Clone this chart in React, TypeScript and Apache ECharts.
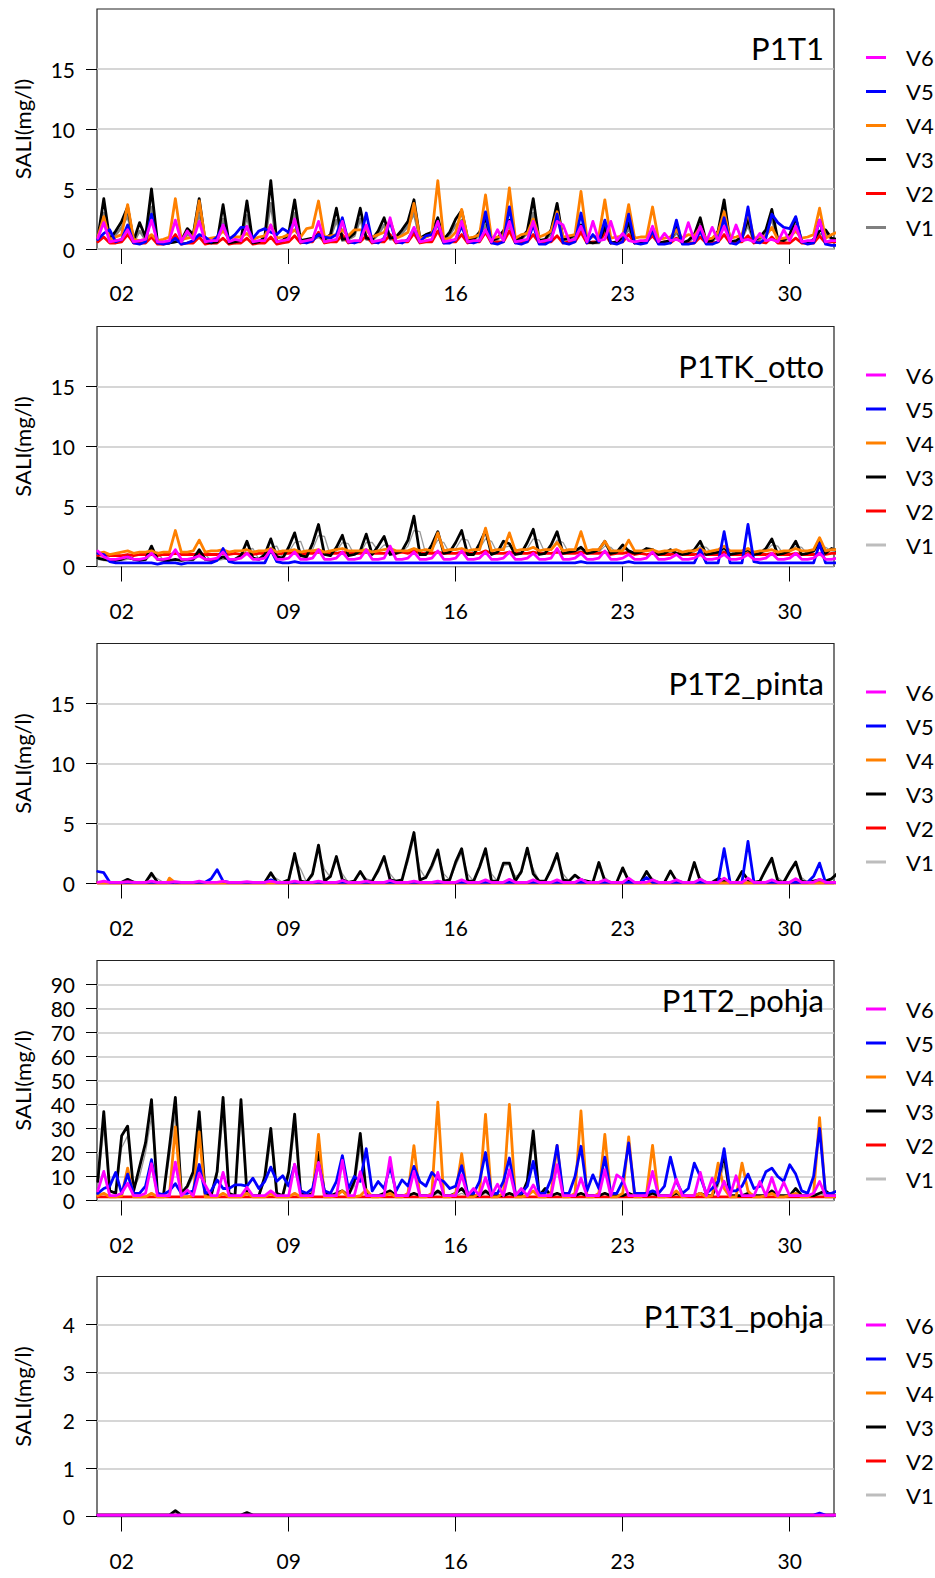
import React, { useEffect, useRef } from "react";
import * as echarts from "echarts";

// ---------- data ----------
// six-hourly samples starting at day 1, 00:00 (step 0.25 day)
const START_DAY = 1;
const STEP = 0.25;
const DAY_TICKS = [2, 9, 16, 23, 30];
const PANEL_TITLES = ["P1T1", "P1TK_otto", "P1T2_pinta", "P1T2_pohja", "P1T31_pohja"];
const Y_MAX = [20, 20, 20, 100, 5];
const Y_STEP = [5, 5, 5, 10, 1];
const Y_TICKS = [
  [0, 5, 10, 15],
  [0, 5, 10, 15],
  [0, 5, 10, 15],
  [0, 10, 20, 30, 40, 50, 60, 70, 80, 90],
  [0, 1, 2, 3, 4],
];
const SERIES_NAMES = ["V1", "V2", "V3", "V4", "V5", "V6"];

// ---- P1T1 ----
const p1V1 = [
  0.7,3.0,0.7,1.2, 1.8,2.8,0.6,1.5, 0.8,3.5,0.5,0.5, 0.5,0.6,0.6,1.2, 1.0,3.0,0.5,0.5, 0.5,2.5,0.5,0.5, 0.6,2.8,0.5,0.5, 0.8,3.8,0.5,0.6,
  1.1,3.0,0.6,0.7, 0.8,1.0,0.7,1.0, 2.4,0.7,0.8,1.1, 2.5,0.8,0.7,1.2, 2.0,0.8,0.9,1.3, 1.9,3.0,0.8,1.0, 1.2,2.0,0.7,1.2, 2.0,2.4,0.8,0.7,
  1.2,2.0,0.6,0.8, 1.2,1.9,0.7,0.8, 1.3,3.0,0.6,0.7, 1.3,2.8,0.7,0.8, 1.0,1.6,0.5,0.5, 0.5,1.4,0.5,0.5, 0.8,1.7,0.5,0.5, 0.6,1.2,0.5,0.5,
  0.6,1.4,0.5,0.6, 1.0,2.0,0.5,0.6, 1.2,3.0,0.5,0.6, 0.9,2.0,0.6,0.8, 1.3,2.5,0.7,0.6, 1.0,2.0,0.5,0.5, 0.7,1.2,1.3,0.8, 0.7,
];
const p1V2 = [
  0.6,1.0,0.5,0.5, 0.6,1.2,0.5,0.5, 0.5,1.0,0.4,0.4, 0.5,1.2,0.4,0.5, 0.5,1.0,0.4,0.5, 0.5,0.9,0.4,0.5, 0.5,0.9,0.4,0.5, 0.5,1.0,0.4,0.5,
  0.6,1.1,0.5,0.6, 0.6,1.4,0.5,0.6, 0.6,1.2,0.5,0.6, 0.6,1.1,0.5,0.6, 0.6,1.2,0.5,0.6, 0.6,1.3,0.5,0.6, 0.6,1.5,0.5,0.6, 0.6,1.2,0.5,0.6,
  0.6,1.4,0.5,0.6, 0.6,1.5,0.5,0.6, 0.6,1.2,0.5,0.6, 0.6,1.1,0.5,0.6, 0.6,1.4,0.5,0.6, 0.6,1.3,0.5,0.6, 0.6,1.2,0.5,0.6, 0.6,1.1,0.5,0.6,
  0.5,0.9,0.5,0.5, 0.5,1.0,0.5,0.5, 0.6,1.2,0.5,0.6, 0.6,1.1,0.5,0.6, 0.5,1.0,0.5,0.5, 0.5,0.9,0.5,0.5, 0.5,1.1,0.5,0.6, 0.6,
];
const p1V3 = [
  0.9,4.2,0.8,1.5, 2.3,3.5,0.7,2.2, 1.0,5.0,0.6,0.5, 0.5,0.6,0.7,1.7, 1.2,4.2,0.6,0.5, 0.6,3.7,0.5,0.6, 0.7,4.0,0.5,0.6, 1.0,5.7,0.6,0.7,
  1.3,4.1,0.7,0.8, 0.9,1.2,0.8,1.2, 3.4,0.8,0.9,1.3, 3.4,0.9,0.8,1.5, 2.6,0.9,1.0,1.6, 2.3,4.1,0.9,1.2, 1.4,2.6,0.8,1.4, 2.5,3.2,0.9,0.8,
  1.4,2.6,0.7,0.9, 1.5,2.4,0.8,0.9, 1.5,4.2,0.7,0.8, 1.6,3.8,0.8,0.9, 1.2,2.0,0.6,0.5, 0.6,1.8,0.5,0.6, 1.0,2.2,0.5,0.6, 0.7,1.5,0.5,0.6,
  0.7,1.8,0.5,0.7, 1.2,2.6,0.6,0.7, 1.5,4.1,0.6,0.7, 1.0,2.5,0.7,1.0, 1.6,3.3,0.8,0.7, 1.2,2.6,0.6,0.5, 0.8,1.5,1.6,0.9, 0.8,
];
const p1V4 = [
  1.0,2.7,0.8,1.0, 1.2,3.7,0.8,0.7, 0.8,1.2,0.7,0.8, 1.0,4.2,0.8,0.9, 1.0,4.0,0.8,0.9, 1.0,1.5,0.9,1.0, 1.0,1.3,0.8,1.0, 1.1,2.0,0.9,1.0,
  1.2,1.6,1.0,1.7, 1.8,4.0,1.0,1.1, 1.2,1.6,1.1,1.6, 1.6,1.6,1.0,1.2, 1.4,2.4,0.9,1.1, 1.4,3.8,0.9,1.0, 1.2,5.7,0.8,0.9, 1.4,3.3,0.9,1.0,
  1.2,4.5,0.9,1.0, 1.1,5.1,0.9,1.2, 1.3,2.5,1.0,1.2, 1.5,3.1,1.0,1.1, 1.2,4.8,0.9,1.0, 1.1,4.1,0.9,1.0, 1.1,3.7,0.9,1.0, 1.0,3.5,0.8,0.9,
  1.0,1.6,0.9,1.2, 1.1,1.8,0.8,0.9, 1.4,3.1,0.9,1.0, 1.2,3.1,0.9,1.0, 1.1,1.8,0.8,0.9, 1.0,1.5,0.9,1.0, 1.2,3.4,0.9,1.2, 1.4,
];
const p1V5 = [
  0.8,1.3,1.6,0.6, 0.8,2.0,0.5,0.4, 0.6,2.9,0.5,0.4, 0.5,0.9,0.4,0.5, 0.7,1.2,1.0,0.6, 1.0,2.0,0.8,1.2, 1.8,1.8,0.9,1.5, 1.7,1.4,1.2,1.7,
  1.4,2.3,0.6,0.5, 0.7,1.2,1.0,0.9, 1.2,2.6,0.6,0.5, 0.7,3.0,0.6,0.5, 0.9,2.3,0.6,0.5, 0.8,1.7,0.6,1.1, 1.2,2.2,0.5,0.5, 0.8,1.9,0.6,0.5,
  0.7,3.1,0.5,0.4, 0.6,3.5,0.5,0.4, 0.6,2.0,0.4,0.4, 0.7,2.9,0.5,0.4, 0.6,3.0,0.5,1.2, 0.6,2.4,0.5,0.4, 0.6,2.9,0.5,0.4, 0.5,1.5,0.4,0.4,
  0.5,2.4,0.4,0.4, 0.5,1.5,0.4,0.4, 0.6,2.6,0.5,0.4, 0.8,3.5,0.6,0.5, 0.9,2.9,2.2,1.8, 1.7,2.7,0.6,0.4, 0.5,2.4,0.4,0.3, 0.3,
];
const p1V6 = [
  0.9,2.2,0.6,0.7, 0.8,1.6,0.6,0.7, 0.8,2.4,0.6,0.6, 0.7,2.4,0.6,1.5, 0.8,2.3,0.6,0.7, 0.7,2.0,0.6,0.8, 0.7,1.9,0.6,0.7, 0.7,2.0,0.6,0.7,
  0.8,2.5,0.6,0.7, 0.8,2.3,0.6,0.7, 0.8,2.3,0.6,0.7, 0.7,2.0,0.6,0.7, 0.8,2.6,0.6,0.7, 0.7,1.8,0.6,0.7, 0.8,2.3,0.6,0.7, 0.8,2.3,0.6,0.7,
  0.7,1.6,0.6,1.6, 0.7,2.3,0.6,0.7, 0.8,2.3,0.6,0.7, 0.8,2.3,2.0,0.7, 0.8,1.9,0.6,2.3, 0.7,0.8,2.3,0.7, 1.3,0.7,0.6,0.7, 0.7,1.9,0.6,1.3,
  0.7,0.8,0.6,2.2, 0.7,1.9,0.6,1.8, 0.7,1.9,0.6,2.0, 0.7,0.8,0.6,1.3, 0.7,0.8,0.6,1.6, 0.7,1.9,0.6,0.7, 0.7,2.4,0.6,0.7, 0.7,
];

// ---- P1TK_otto ----
const p2V1 = [
  0.6,0.5,0.5,0.5, 0.5,0.6,0.6,0.5, 0.5,1.0,1.2,0.5, 0.5,0.5,0.5,0.5, 0.5,0.9,1.0,0.5, 0.5,0.6,0.6,0.5, 0.7,1.4,1.5,0.6, 0.8,1.6,1.7,0.7,
  1.2,2.0,2.1,0.8, 1.4,2.6,2.5,0.9, 1.3,2.0,1.9,1.0, 1.1,2.0,2.0,1.3, 1.8,1.7,1.1,1.2, 1.7,3.0,2.9,1.0, 1.4,2.2,2.0,1.1, 1.5,2.3,2.2,1.0,
  1.5,2.3,2.1,1.1, 1.6,1.7,1.5,1.1, 1.5,2.3,2.2,1.1, 1.4,2.2,2.0,1.1, 1.2,1.4,1.3,1.1, 1.2,1.7,1.6,1.1, 1.5,1.3,1.2,1.1, 1.3,1.3,1.2,1.1,
  1.2,1.1,1.1,1.0, 1.2,1.7,1.6,1.1, 1.1,1.4,1.3,1.0, 1.1,1.3,1.2,1.0, 1.3,1.8,1.7,1.0, 1.2,1.7,1.6,1.0, 1.2,1.7,1.6,1.3, 1.2,
];
const p2V2 = [
  0.9,1.0,0.9,0.9, 0.9,1.0,0.9,1.0, 1.0,1.0,0.9,1.0, 1.0,1.1,1.0,1.0, 1.0,1.1,1.0,1.0, 1.0,1.1,1.0,1.1, 1.0,1.1,1.0,1.1, 1.1,1.2,1.0,1.1,
  1.1,1.2,1.0,1.1, 1.1,1.2,1.1,1.1, 1.1,1.2,1.1,1.1, 1.1,1.2,1.1,1.1, 1.1,1.2,1.1,1.2, 1.1,1.3,1.1,1.1, 1.1,1.2,1.1,1.1, 1.1,1.2,1.1,1.1,
  1.1,1.3,1.1,1.1, 1.1,1.2,1.1,1.1, 1.1,1.2,1.1,1.1, 1.1,1.2,1.1,1.1, 1.1,1.2,1.1,1.1, 1.1,1.2,1.0,1.1, 1.1,1.2,1.0,1.1, 1.0,1.1,1.0,1.0,
  1.0,1.1,1.0,1.0, 1.0,1.1,1.0,1.0, 1.0,1.2,1.0,1.0, 1.0,1.1,1.0,1.0, 1.0,1.1,1.0,1.0, 1.0,1.1,1.0,1.0, 1.0,1.1,1.0,1.1, 1.1,
];
const p2V3 = [
  0.7,0.6,0.5,0.5, 0.6,0.8,0.6,0.5, 0.6,1.7,0.6,0.5, 0.5,0.6,0.5,0.6, 0.6,1.4,0.6,0.5, 0.6,0.8,0.6,0.6, 0.9,2.1,0.7,0.6, 1.0,2.3,0.8,0.7,
  1.6,2.8,0.9,0.8, 1.9,3.5,1.0,0.9, 1.6,2.6,0.9,1.0, 1.3,2.7,1.0,1.7, 2.5,1.0,1.1,1.3, 2.2,4.2,1.0,1.0, 1.8,2.9,1.1,1.2, 2.0,3.0,1.0,1.0,
  1.9,3.0,1.0,1.2, 2.1,1.9,1.0,1.1, 2.0,3.1,1.0,1.1, 1.8,2.9,1.1,1.2, 1.3,1.6,1.1,1.2, 1.4,2.1,1.1,1.2, 1.8,1.3,1.1,1.2, 1.5,1.4,1.0,1.1,
  1.4,1.1,1.0,1.1, 1.4,2.1,1.0,1.1, 1.2,1.6,1.0,1.1, 1.2,1.4,1.0,1.1, 1.5,2.3,1.0,1.1, 1.3,2.1,1.0,1.1, 1.3,2.1,1.1,1.5, 1.3,
];
const p2V4 = [
  1.1,1.2,1.0,1.1, 1.2,1.3,1.1,1.2, 1.2,1.3,1.1,1.2, 1.2,3.0,1.2,1.2, 1.3,2.2,1.2,1.3, 1.3,1.4,1.2,1.3, 1.3,1.4,1.2,1.3, 1.3,1.5,1.2,1.3,
  1.3,1.4,1.2,1.3, 1.3,1.4,1.2,1.3, 1.4,1.5,1.3,1.3, 1.3,1.4,1.2,1.3, 1.4,1.5,1.3,1.3, 1.3,1.5,1.3,1.4, 1.3,2.8,1.3,1.4, 1.4,1.5,1.3,1.4,
  1.4,3.2,1.3,1.4, 1.4,2.8,1.3,1.4, 1.4,1.6,1.3,1.4, 1.4,2.0,1.3,1.4, 1.4,2.9,1.3,1.4, 1.4,2.1,1.3,1.3, 1.3,2.2,1.3,1.3, 1.3,1.4,1.2,1.3,
  1.3,1.4,1.2,1.3, 1.3,1.5,1.2,1.3, 1.4,1.7,1.3,1.3, 1.3,1.5,1.2,1.3, 1.3,1.4,1.2,1.3, 1.3,1.5,1.3,1.3, 1.4,2.4,1.3,1.4, 1.4,
];
const p2V5 = [
  1.1,1.0,0.4,0.3, 0.3,0.3,0.3,0.3, 0.3,0.3,0.2,0.3, 0.3,0.3,0.2,0.3, 0.3,0.3,0.3,0.3, 0.5,1.5,0.4,0.3, 0.3,0.3,0.3,0.3, 0.3,1.4,0.4,0.3,
  0.3,0.4,0.3,0.3, 0.3,0.3,0.3,0.3, 0.3,0.3,0.3,0.3, 0.3,0.3,0.3,0.3, 0.3,0.3,0.3,0.3, 0.3,0.3,0.3,0.3, 0.3,0.3,0.3,0.3, 0.3,0.3,0.3,0.3,
  0.3,0.3,0.3,0.3, 0.3,0.3,0.3,0.3, 0.3,0.3,0.3,0.3, 0.3,0.3,0.3,0.3, 0.3,0.4,0.3,0.3, 0.3,0.3,0.3,0.3, 0.3,0.4,0.3,0.3, 0.3,0.3,0.3,0.3,
  0.3,0.3,0.3,0.3, 0.3,1.4,0.3,0.3, 0.3,2.9,0.3,0.3, 0.3,3.5,0.4,0.3, 0.3,0.3,0.3,0.3, 0.3,0.3,0.3,0.3, 0.3,1.9,0.3,0.3, 0.3,
];
const p2V6 = [
  1.3,0.8,0.6,0.6, 0.7,0.8,0.6,0.6, 0.7,1.1,0.6,0.6, 0.7,1.4,0.6,0.6, 0.7,0.9,0.6,0.6, 0.7,1.2,0.6,0.6, 0.7,1.1,0.6,0.6, 0.7,1.4,0.6,0.6,
  0.7,1.2,0.6,0.6, 0.7,1.4,0.6,0.6, 0.7,1.2,0.6,0.6, 0.7,1.4,0.6,0.6, 0.7,1.7,0.6,0.6, 0.7,1.2,0.6,0.6, 0.7,1.3,0.6,0.6, 0.7,1.3,0.6,0.6,
  0.7,1.2,0.6,0.6, 0.7,1.2,0.6,0.6, 0.7,1.1,0.6,0.6, 0.7,1.5,0.6,0.6, 0.7,1.1,0.6,0.6, 0.7,1.3,0.6,0.6, 0.7,1.0,0.6,0.6, 0.7,1.2,0.6,0.6,
  0.7,1.0,0.6,0.6, 0.7,1.0,0.6,0.6, 0.7,1.0,0.6,0.6, 0.7,1.0,0.6,0.6, 0.7,1.1,0.6,0.6, 0.7,1.1,0.6,0.6, 0.7,1.1,0.6,0.6, 0.7,
];

// ---- P1T2_pinta ----
const p3V1 = [
  0.1,0.1,0.1,0.1, 0.1,0.3,0.2,0.1, 0.1,0.6,0.4,0.1, 0.1,0.1,0.1,0.1, 0.1,0.1,0.1,0.1, 0.1,0.1,0.1,0.1, 0.1,0.1,0.1,0.1, 0.1,0.7,0.4,0.1,
  0.2,2.0,1.2,0.1, 0.6,2.8,1.2,0.5, 2.0,0.8,0.1,0.2, 0.9,0.4,0.2,0.9, 2.0,0.8,0.2,0.3, 1.8,3.8,1.2,0.4, 1.2,2.5,0.8,0.3, 1.5,2.6,0.8,0.2,
  1.2,2.6,0.8,0.2, 1.5,1.6,0.6,0.8, 2.6,1.2,0.2,0.2, 1.0,2.2,0.8,0.2, 0.6,0.4,0.2,0.1, 1.5,0.5,0.1,0.1, 1.1,0.4,0.1,0.1, 0.9,0.4,0.1,0.1,
  0.9,0.4,0.1,0.1, 1.5,0.5,0.1,0.1, 0.3,0.2,0.1,0.1, 0.9,0.4,0.1,0.2, 1.0,1.9,0.5,0.1, 0.9,1.6,0.5,0.1, 0.2,0.3,0.2,0.3, 0.7,
];
const p3V2 = [[1, 0.05], [32, 0.05]];
const p3V3 = [
  0.1,0.1,0.1,0.1, 0.1,0.35,0.1,0.1, 0.1,0.85,0.1,0.1, 0.1,0.1,0.1,0.1, 0.1,0.1,0.1,0.1, 0.1,0.1,0.1,0.1, 0.1,0.1,0.1,0.1, 0.1,0.9,0.1,0.1,
  0.3,2.5,0.2,0.1, 0.8,3.2,0.2,0.6, 2.25,0.3,0.1,0.2, 1.0,0.2,0.2,1.1, 2.25,0.3,0.2,0.3, 2.2,4.25,0.3,0.5, 1.5,2.8,0.2,0.3, 1.8,2.9,0.2,0.2,
  1.4,2.9,0.2,0.2, 1.7,1.7,0.2,1.0, 2.95,0.8,0.2,0.2, 1.2,2.5,0.3,0.2, 0.7,0.3,0.2,0.1, 1.75,0.2,0.1,0.1, 1.3,0.2,0.1,0.1, 1.0,0.2,0.1,0.1,
  1.05,0.2,0.1,0.1, 1.75,0.2,0.1,0.1, 0.4,0.2,0.1,0.1, 1.0,0.3,0.1,0.2, 1.2,2.1,0.2,0.1, 1.0,1.8,0.2,0.1, 0.2,0.3,0.2,0.4, 0.85,
];
const p3V4 = [[1, 0.05], [3.9, 0.05], [4, 0.45], [4.25, 0.05], [30, 0.05], [30.25, 0.3], [30.5, 0.05], [32, 0.05]];
const p3V5 = [
  1.0,0.9,0.1,0.1, 0.1,0.1,0.1,0.1, 0.1,0.1,0.1,0.1, 0.1,0.1,0.1,0.1, 0.1,0.1,0.1,0.4, 1.15,0.2,0.1,0.1, 0.1,0.1,0.1,0.1, 0.1,0.3,0.1,0.1,
  0.1,0.1,0.1,0.1, 0.1,0.1,0.1,0.1, 0.1,0.1,0.1,0.1, 0.1,0.1,0.1,0.1, 0.1,0.1,0.1,0.1, 0.1,0.1,0.1,0.1, 0.1,0.1,0.1,0.1, 0.1,0.1,0.1,0.1,
  0.1,0.1,0.1,0.1, 0.1,0.1,0.1,0.1, 0.1,0.1,0.1,0.1, 0.1,0.1,0.1,0.1, 0.1,0.1,0.1,0.1, 0.1,0.1,0.1,0.1, 0.1,0.1,0.1,0.1, 0.5,0.1,0.1,0.1,
  0.1,0.1,0.1,0.1, 0.1,0.1,0.1,0.1, 0.1,2.9,0.1,0.1, 0.1,3.5,0.1,0.1, 0.1,0.1,0.1,0.1, 0.1,0.1,0.1,0.1, 0.6,1.7,0.1,0.1, 0.1,
];
const p3V6 = [
  0.1,0.2,0.1,0.1, 0.1,0.15,0.1,0.1, 0.1,0.2,0.1,0.1, 0.1,0.15,0.1,0.1, 0.1,0.2,0.1,0.1, 0.1,0.2,0.1,0.1, 0.1,0.15,0.1,0.1, 0.1,0.2,0.1,0.1,
  0.1,0.2,0.1,0.1, 0.1,0.2,0.1,0.1, 0.1,0.25,0.1,0.1, 0.1,0.2,0.1,0.1, 0.1,0.25,0.1,0.1, 0.1,0.2,0.1,0.1, 0.1,0.2,0.1,0.1, 0.1,0.3,0.1,0.1,
  0.1,0.3,0.1,0.1, 0.1,0.35,0.1,0.1, 0.1,0.3,0.1,0.1, 0.1,0.3,0.1,0.1, 0.1,0.35,0.1,0.1, 0.1,0.3,0.1,0.1, 0.1,0.45,0.1,0.1, 0.1,0.3,0.1,0.1,
  0.1,0.3,0.1,0.1, 0.1,0.35,0.1,0.1, 0.1,0.45,0.1,0.1, 0.1,0.45,0.1,0.1, 0.1,0.3,0.1,0.1, 0.1,0.4,0.1,0.1, 0.1,0.35,0.1,0.1, 0.1,
];

// ---- P1T2_pohja ----
const p4V1 = [
  6,30,4,3, 22,27,5,10, 20,35,3,2, 18,36,3,5, 10,30,3,2, 10,36,3,2, 35,3,2,2, 8,25,3,2,
  10,30,3,2, 3,16,3,2, 3,4,2,6, 22,3,2,2, 2,3,2,2, 2,3,2,2, 2,3,2,2, 2,3,2,2,
  2,3,2,2, 2,3,2,2, 6,24,2,4, 2,3,2,2, 2,3,2,2, 2,3,2,2, 2,3,2,2, 2,3,2,2,
  2,3,2,2, 2,3,2,2, 6,15,2,2, 2,3,2,2, 2,3,2,2, 2,3,2,2, 2,3,2,2, 2,
];
const p4V2 = [[1, 1.5], [32, 1.5]];
const p4V3 = [
  8,37,4,3, 27,31,4,14, 24,42,3,2, 22,43,3,6, 12,37,3,2, 12,43,3,2, 42,3,2,2, 10,30,3,2,
  12,36,3,2, 3,20,3,2, 3,4,2,8, 28,3,2,2, 3,4,2,2, 2,3,2,2, 2,4,2,2, 3,5,2,2,
  2,4,2,2, 2,3,2,2, 8,29,2,5, 2,3,2,2, 2,3,2,2, 2,3,2,2, 2,3,2,2, 2,3,2,2,
  2,3,2,2, 2,3,2,2, 8,19,2,2, 2,3,2,2, 2,4,2,2, 2,5,2,2, 2,3,4,2, 2,
];
const p4V4 = [
  2,3,1.5,1.5, 2,13.5,1.5,1.5, 1.5,3,1.5,1.5, 2,30.7,1.5,1.5, 2,28.6,1.5,1.5, 1.5,3,1.5,1.5, 1.5,3,1.5,1.5, 1.5,3,1.5,1.5,
  1.5,3,1.5,1.5, 2,27.5,1.5,1.5, 2,4,1.5,1.5, 2,4.5,1.5,1.5, 2,3,1.5,1.5, 3,22.9,1.5,1.5, 3,41,1.5,1.5, 3,19.5,1.5,1.5,
  3,35.9,1.5,1.5, 3,40,1.5,1.5, 2,4,1.5,1.5, 3,23,1.5,1.5, 3,37.3,1.5,1.5, 3,27.5,1.5,1.5, 3,26.5,1.5,1.5, 3,23,1.5,1.5,
  2,4,1.5,2, 2,3,1.5,2, 15.6,5,1.5,1.5, 15.6,4,1.5,1.5, 2,3,1.5,1.5, 2,3,1.5,1.5, 3,34.5,1.5,1.5, 2,
];
const p4V5 = [
  3,5,6,11.7, 3,11,3,3, 6,17,3,2.5, 4,7,3,3, 4,15,3,4, 8.6,5,5,6.5, 6.5,6,9.3,5, 8,13.9,8,10.3,
  6,14.9,4,3, 5,15.6,4,3, 8,18.7,5,10, 8,21.6,4,7.9, 5,14.2,4,8.6, 6,14.2,7.9,6, 11.7,9,7.9,5, 6,14.5,3,3,
  8,20,3,3, 8,17.7,3,3, 6,16.3,3,3, 9,23,3,3, 10,22.6,4,10.7, 5,18.1,3,3, 8,24,3,3, 3,4,3,6,
  18.1,8,3,5, 15.6,10,3,5, 8,21.6,4,4, 6,11,5,6, 12,13.5,10,8, 14.9,11,4,3, 10,30,3,3, 4,
];
const p4V6 = [
  4,12.1,2,2, 3,7.2,2,2, 3,15.3,2,2, 2,16,2,4.4, 2,11.4,6.5,2, 2,11.7,2,2, 2,5.5,2,2, 2,4,2,2,
  2,15.1,2,2, 2,15.9,2,2, 2,16.7,2,2, 12,2,2,2, 2,18,2,2, 2,12.1,2,2, 2,11.7,2,2, 2,10.7,2,5,
  2,9.6,2,6.8, 2,12.8,2,5, 2,6.5,2,2, 2,14.9,2,2, 2,9.3,2,2, 2,12.8,2,10.7, 8.9,2,2,2, 2,12.1,2,2,
  2,8.9,2,2, 2,11.7,2,9.3, 2,8,2,10.3, 2,2,2,7.9, 2,9.6,2,7.6, 2,2,2,2, 3,7.9,2,2, 2,
];

// ---- P1T31_pohja ----
const p5V1 = [[1, 0.03], [32, 0.03]];
const p5V2 = [[1, 0.03], [32, 0.03]];
const p5V3 = [[1, 0.03], [4, 0.03], [4.25, 0.12], [4.5, 0.03], [7, 0.03], [7.25, 0.08], [7.5, 0.03], [32, 0.03]];
const p5V4 = [[1, 0.03], [32, 0.03]];
const p5V5 = [[1, 0.03], [31, 0.03], [31.25, 0.07], [31.5, 0.03], [32, 0.03]];
const p5V6 = [[1, 0.03], [32, 0.03]];

const PANEL_DATA: any[][] = [
  [p1V1, p1V2, p1V3, p1V4, p1V5, p1V6],
  [p2V1, p2V2, p2V3, p2V4, p2V5, p2V6],
  [p3V1, p3V2, p3V3, p3V4, p3V5, p3V6],
  [p4V1, p4V2, p4V3, p4V4, p4V5, p4V6],
  [p5V1, p5V2, p5V3, p5V4, p5V5, p5V6],
];

// ---------- layout / style ----------
const FONT = "Lato, 'Open Sans', sans-serif";
const PANEL_TOP = [9, 326.5, 643.5, 960.5, 1276.5];
const PLOT_H = 240;
const GRID_LEFT = 97;
const GRID_W = 737;
const X_MIN = 0.966;
const X_MAX = 31.855;
const COLORS: Record<string, string> = {
  V1: "#b4b4b4",
  V2: "#ff0000",
  V3: "#000000",
  V4: "#ff8000",
  V5: "#0000ff",
  V6: "#ff00ff",
};

function toPoints(arr: any[]): number[][] {
  if (arr.length && Array.isArray(arr[0])) return arr as number[][];
  return (arr as number[]).map((v, i) => [START_DAY + i * STEP, v]);
}

function buildOption() {
  const grid: any[] = [];
  const xAxis: any[] = [];
  const yAxis: any[] = [];
  const series: any[] = [];
  const graphic: any[] = [];

  PANEL_TITLES.forEach((title, p) => {
    const top = PANEL_TOP[p];
    grid.push({
      left: GRID_LEFT,
      top,
      width: GRID_W,
      height: PLOT_H,
      show: true,
      borderColor: "#222",
      borderWidth: 1.2,
      backgroundColor: "transparent",
    });
    xAxis.push({
      gridIndex: p,
      type: "value",
      min: X_MIN,
      max: X_MAX,
      axisLine: { show: false },
      splitLine: { show: false },
      axisTick: { show: true, customValues: DAY_TICKS, length: 15, lineStyle: { color: "#000", width: 1 } },
      axisLabel: {
        customValues: DAY_TICKS,
        formatter: (v: number) => String(Math.round(v)).padStart(2, "0"),
        fontSize: 21,
        fontFamily: FONT,
        color: "#000",
        margin: 33,
      },
    });
    yAxis.push({
      gridIndex: p,
      type: "value",
      min: 0,
      max: Y_MAX[p],
      interval: Y_STEP[p],
      axisLine: { show: false },
      axisTick: { show: true, customValues: Y_TICKS[p], length: 11, lineStyle: { color: "#000", width: 1 } },
      axisLabel: { customValues: Y_TICKS[p], fontSize: 21, fontFamily: FONT, color: "#000", margin: 22 },
      splitLine: { show: true, lineStyle: { color: "#c8c8c8", width: 1.5 } },
    });

    SERIES_NAMES.forEach((name, s) => {
      const isV1 = name === "V1";
      series.push({
        name,
        type: "line",
        xAxisIndex: p,
        yAxisIndex: p,
        data: toPoints(PANEL_DATA[p][s]),
        showSymbol: false,
        symbol: "none",
        clip: true,
        silent: true,
        lineStyle: {
          color: isV1 ? (p === 0 ? "#808080" : "#999999") : COLORS[name],
          width: isV1 ? (p === 0 ? 2.6 : 1.3) : 2.8,
          join: "round",
          cap: "round",
        },
        z: 2 + s,
      });
    });

    // panel title
    graphic.push({
      type: "text",
      x: 824,
      y: top + 39,
      z: 100,
      style: { text: title, fontSize: 31, fontFamily: FONT, fill: "#000", align: "right", verticalAlign: "middle" },
    });
    // y axis name
    graphic.push({
      type: "text",
      x: 22,
      y: top + 120,
      rotation: Math.PI / 2,
      style: { text: "SALI(mg/l)", fontSize: 22, fontFamily: FONT, fill: "#000", align: "center", verticalAlign: "middle" },
    });
    // legend V6..V1
    const legendNames = ["V6", "V5", "V4", "V3", "V2", "V1"];
    legendNames.forEach((name, k) => {
      const y = top + 48.5 + 34 * k;
      const color = name === "V1" ? (p === 0 ? "#808080" : "#bdbdbd") : COLORS[name];
      graphic.push({
        type: "line",
        shape: { x1: 866, y1: y, x2: 886, y2: y },
        style: { stroke: color, lineWidth: 3 },
      });
      graphic.push({
        type: "text",
        x: 906,
        y,
        style: { text: name, fontSize: 22, fontFamily: FONT, fill: "#000", align: "left", verticalAlign: "middle" },
      });
    });
  });

  return {
    animation: false,
    backgroundColor: "#ffffff",
    grid,
    xAxis,
    yAxis,
    series,
    graphic,
  };
}

export default function App() {
  const ref = useRef<HTMLDivElement>(null);
  useEffect(() => {
    document.body.style.margin = "0";
    if (!ref.current) return;
    const chart = echarts.init(ref.current, undefined, { renderer: "svg" });
    chart.setOption(buildOption() as any);
    return () => chart.dispose();
  }, []);
  return <div ref={ref} style={{ width: 935, height: 1578 }} />;
}
